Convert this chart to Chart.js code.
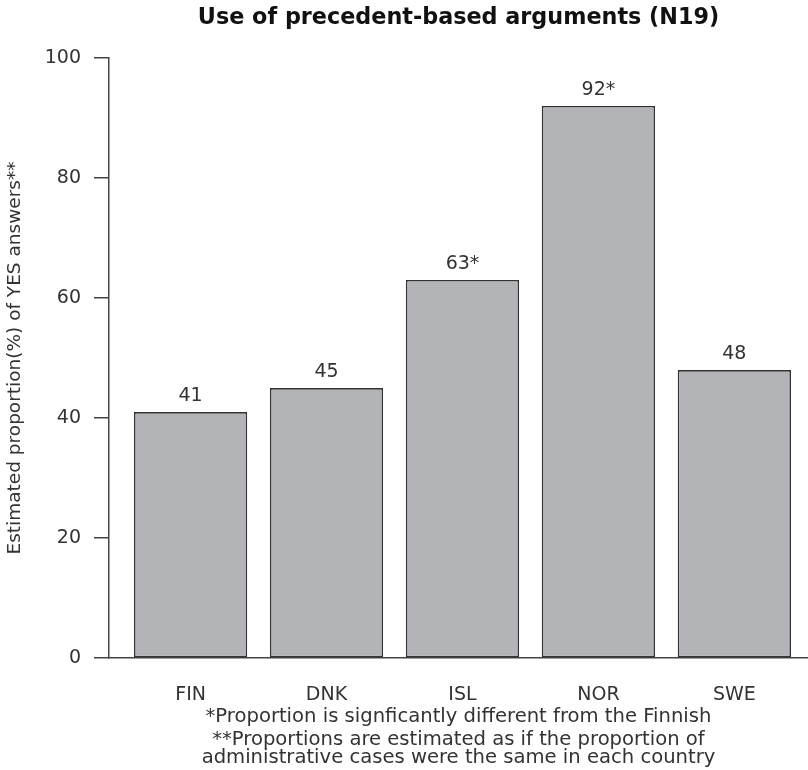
<!DOCTYPE html>
<html>
<head>
<meta charset="utf-8">
<script src="https://cdn.jsdelivr.net/npm/chart.js@4/dist/chart.umd.min.js"></script>
<style>
  html, body { margin: 0; padding: 0; background: #fff; }
  #wrap { width: 808px; height: 770px; position: relative; }
</style>
</head>
<body>
<div id="wrap"><canvas id="chart"></canvas></div>
<script>
const countries = ['FIN', 'DNK', 'ISL', 'NOR', 'SWE'];
const proportions = [41, 45, 63, 92, 48];
const barLabels = ['41', '45', '63*', '92*', '48'];
// bar centres in R barplot units (width 1, space 0.2)
const barCenters = [0.7, 1.9, 3.1, 4.3, 5.5];
const yTicks = [0, 20, 40, 60, 80, 100];

const FONT = '"DejaVu Sans", Arial, sans-serif';
const INK = '#333333';

// numbers printed above each bar
const valueLabels = {
    id: 'valueLabels',
    afterDatasetsDraw(chart) {
        const ctx = chart.ctx;
        const meta = chart.getDatasetMeta(0);
        ctx.save();
        ctx.font = '19px ' + FONT;
        ctx.fillStyle = INK;
        ctx.textAlign = 'center';
        ctx.textBaseline = 'middle';
        meta.data.forEach((bar, i) => {
            ctx.fillText(barLabels[i], bar.x, bar.y - 16);
        });
        ctx.restore();
    }
};

new Chart(document.getElementById('chart'), {
    type: 'bar',
    data: {
        datasets: [{
            data: proportions.map((v, i) => ({ x: barCenters[i], y: v })),
            backgroundColor: '#b3b4b8',
            borderColor: '#333333',
            borderWidth: 1.6,
            borderSkipped: false,
            categoryPercentage: 1,
            barPercentage: 1 / 1.2
        }]
    },
    options: {
        responsive: true,
        maintainAspectRatio: false,
        animation: false,
        layout: { padding: { top: 0, right: 0, bottom: 3, left: 0 } },
        plugins: {
            legend: { display: false },
            tooltip: { enabled: false },
            title: {
                display: true,
                fullSize: false,
                text: 'Use of precedent-based arguments (N19)',
                color: '#111',
                font: { family: FONT, size: 22.3, weight: 'bold' },
                padding: { top: 4.6, bottom: 26.6 }
            },
            subtitle: {
                display: true,
                position: 'bottom',
                fullSize: false,
                text: ['**Proportions are estimated as if the proportion of',
                       'administrative cases were the same in each country'],
                color: INK,
                font: { family: FONT, size: 19.6, lineHeight: 0.918 },
                padding: { top: 2.2, bottom: 0 }
            }
        },
        scales: {
            x: {
                type: 'linear',
                offset: false,
                min: -0.02,
                max: 6.15,
                grid: { display: false, drawTicks: false },
                border: { display: true, color: '#444', width: 1.5 },
                afterBuildTicks: (scale) => {
                    scale.ticks = barCenters.map(v => ({ value: v }));
                },
                ticks: {
                    autoSkip: false,
                    maxRotation: 0,
                    color: INK,
                    font: { family: FONT, size: 19 },
                    padding: 25.6,
                    callback: (v, i) => countries[i]
                },
                title: {
                    display: true,
                    text: '*Proportion is signficantly different from the Finnish',
                    color: INK,
                    font: { family: FONT, size: 19.6 },
                    padding: { top: -26.8, bottom: 0 }
                }
            },
            y: {
                min: 0,
                max: 100,
                afterBuildTicks: (scale) => {
                    scale.ticks = yTicks.map(v => ({ value: v }));
                },
                afterFit: (scale) => { scale.width = 109; },
                grid: {
                    drawOnChartArea: false,
                    drawTicks: true,
                    tickLength: 15,
                    color: '#444',
                    lineWidth: 1.5
                },
                border: { display: true, color: '#444', width: 1.5 },
                ticks: {
                    color: INK,
                    font: { family: FONT, size: 19 },
                    padding: 13
                },
                title: {
                    display: true,
                    text: 'Estimated proportion(%) of YES answers**',
                    color: INK,
                    font: { family: FONT, size: 18.5 },
                    padding: { top: 4, bottom: 0 }
                }
            }
        }
    },
    plugins: [valueLabels]
});
</script>
</body>
</html>
